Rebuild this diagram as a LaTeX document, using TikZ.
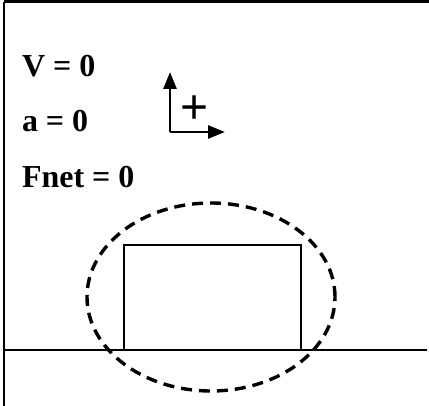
\documentclass[tikz,border=0pt]{standalone}
\usepackage{fontspec}
\setmainfont{Liberation Serif}
\newfontfamily\plusfont{Liberation Sans}
\usetikzlibrary{arrows.meta,positioning,shapes.geometric}

\begin{document}
\begin{tikzpicture}[
  x=1pt, y=-1pt,
  >={Triangle[length=17pt, width=13pt]},
  every node/.style={inner sep=0pt, outer sep=0pt},
  value/.style={anchor=base west, font=\fontsize{32}{36}\selectfont\bfseries},
  sign/.style={font=\fontsize{48}{52}\selectfont\plusfont},
  frame/.style={line width=3pt},
  ground/.style={line width=2.2pt},
  block/.style={draw, line width=2.2pt, minimum width=177pt, minimum height=105pt},
  system/.style={draw, ellipse, line width=3.4pt, dash pattern=on 11pt off 7pt, minimum width=248pt, minimum height=188pt},
  arrow/.style={->, line width=2.8pt}
]
\useasboundingbox (0,0) rectangle (429,406);

% frame and floor
\coordinate (tl) at (4,2);
\coordinate (tr) at (429,2);
\coordinate (bl) at (4,406);
\coordinate (gl) at (5,350);
\coordinate (gr) at (427,350);
\draw[frame] (tl) -- (tr);
\draw[ground] (tl) -- (bl);
\draw[ground] (gl) -- (gr);

% values
\node[value] (vel) at (22,77) {V = 0};
\node[value] (acc) at (22,132) {a = 0};
\node[value] (fnet) at (22,188) {Fnet = 0};

% sign convention
\coordinate (origin) at (170,132);
\coordinate (up) at (170,72);
\coordinate (right) at (225,132);
\draw[arrow] (origin) -- (up);
\draw[arrow] (origin) -- (right);
\node[sign] (plus) at (195,110) {+};

% object and system
\node[block] (box) at (212.5,297.5) {};
\node[system] (sys) at (211,297) {};

\end{tikzpicture}
\end{document}
